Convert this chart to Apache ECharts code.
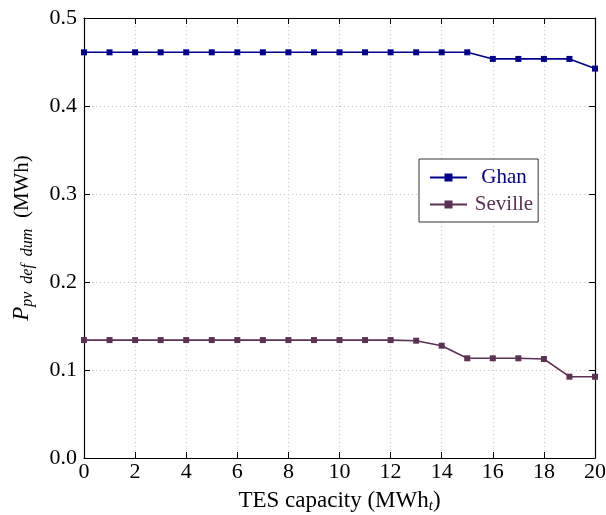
<!DOCTYPE html>
<html><head><meta charset="utf-8">
<script src="https://cdn.jsdelivr.net/npm/echarts@6/dist/echarts.min.js"></script>
<style>html,body{margin:0;padding:0;background:#fff}#c{width:606px;height:515px}</style>
</head><body><div id="c"></div>
<script>
const tesCapacity = [0,1,2,3,4,5,6,7,8,9,10,11,12,13,14,15,16,17,18,19,20];
const ghan = [0.461,0.461,0.461,0.461,0.461,0.461,0.461,0.461,0.461,0.461,0.461,0.461,0.461,0.461,0.461,0.461,0.4535,0.4535,0.4535,0.4535,0.4425];
const seville = [0.134,0.134,0.134,0.134,0.134,0.134,0.134,0.134,0.134,0.134,0.134,0.134,0.134,0.1333,0.1276,0.1133,0.1133,0.1133,0.1125,0.0924,0.0924];
const seriesNames = ['Ghan','Seville'];
const colors = ['#00008c','#5b3154'];
const font = 'Liberation Serif';

const chart = echarts.init(document.getElementById('c'));
const gridLine = {show:true, lineStyle:{color:'#c8c8c8', type:[1,3], width:1}};
const axisLine = {show:true, onZero:false, lineStyle:{color:'#000', width:1.2}};
const tick = {show:true, inside:true, length:6, lineStyle:{color:'#000', width:1}};
chart.setOption({
  animation:false,
  grid:{left:84, right:11, top:18, bottom:57, containLabel:false, outerBoundsMode:'none'},
  legend:{
    orient:'vertical', left:419, top:159,
    backgroundColor:'#fff', borderColor:'#333', borderWidth:1,
    padding:[8,5,7,10], itemGap:6, itemWidth:37, itemHeight:10,
    data: seriesNames.map((n,i)=>({name:n, textStyle:{color:colors[i]}})),
    formatter: n => '{a|' + n + '}',
    textStyle:{fontFamily:font, fontSize:21, rich:{a:{fontFamily:font, fontSize:21, width:64, align:'center'}}}
  },
  xAxis:[{
    type:'value', min:0, max:20, interval:2,
    name:'TES capacity (MWh{s|t})', nameLocation:'middle', nameGap:29,
    nameTextStyle:{fontFamily:font, fontSize:23, color:'#000', rich:{s:{fontFamily:font, fontSize:15, fontStyle:'italic', padding:[12,0,0,0]}}},
    axisLine:axisLine, axisTick:tick, splitLine:gridLine,
    axisLabel:{fontFamily:font, fontSize:22, color:'#000', margin:3}
  },{
    type:'value', position:'top', min:0, max:20, interval:2,
    axisLine:axisLine, axisTick:tick, axisLabel:{show:false}, splitLine:{show:false}
  }],
  yAxis:[{
    type:'value', min:0, max:0.5, interval:0.1,
    name:'{p|P}{s|pv  def  dum}  (MWh)', nameLocation:'middle', nameGap:48, nameRotate:90,
    nameTextStyle:{fontFamily:font, fontSize:21, color:'#000',
      rich:{p:{fontFamily:font, fontSize:23, fontStyle:'italic'}, s:{fontFamily:font, fontSize:16, fontStyle:'italic', padding:[12,0,0,0]}}},
    axisLine:axisLine, axisTick:tick, splitLine:gridLine,
    axisLabel:{fontFamily:font, fontSize:22, color:'#000', margin:7, formatter:v=>v.toFixed(1)}
  },{
    type:'value', position:'right', min:0, max:0.5, interval:0.1,
    axisLine:axisLine, axisTick:tick, axisLabel:{show:false}, splitLine:{show:false}
  }],
  series: [ghan, seville].map((vals,i)=>({
    name:seriesNames[i], type:'line', xAxisIndex:0, yAxisIndex:0,
    data: tesCapacity.map((x,j)=>[x, vals[j]]),
    symbol:'rect', symbolSize:6, showSymbol:true,
    lineStyle:{color:colors[i], width:1.6},
    itemStyle:{color:colors[i]}
  }))
});
</script></body></html>
